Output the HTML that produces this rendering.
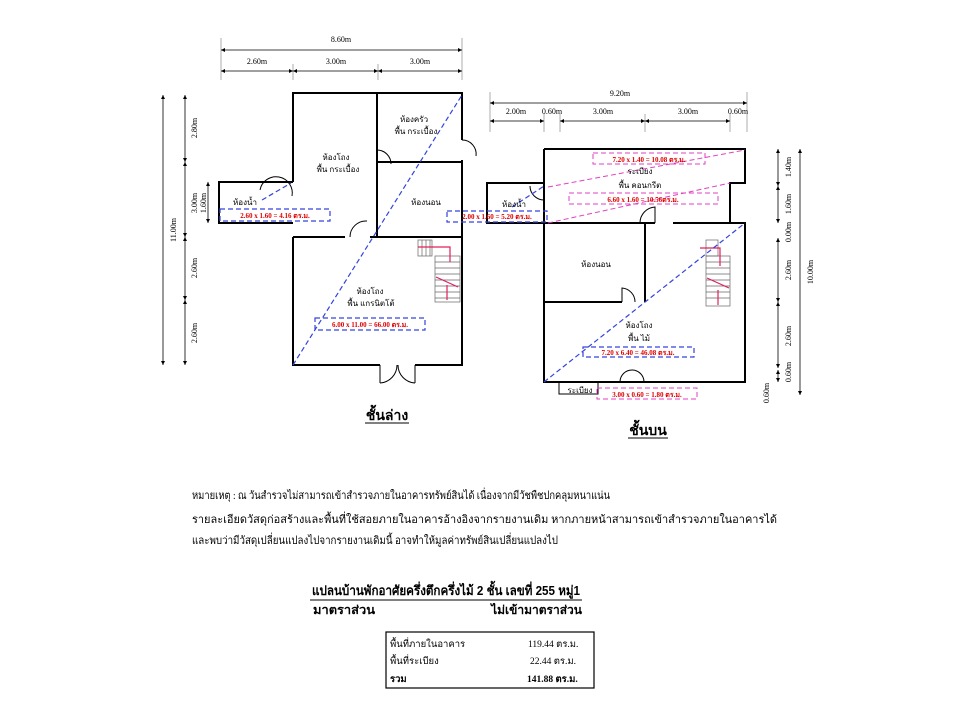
<!DOCTYPE html>
<html><head><meta charset="utf-8"><style>
html,body{margin:0;padding:0;background:#fff;width:960px;height:720px;overflow:hidden}
svg{display:block}
text{font-family:"Liberation Serif","Noto Serif CJK SC","Noto Sans CJK SC",serif;}
.th{font-family:"Liberation Sans","Noto Sans CJK SC",sans-serif;}
</style></head><body>
<svg width="960" height="720" viewBox="0 0 960 720" xmlns="http://www.w3.org/2000/svg">
<defs><marker id="a" viewBox="0 0 6 6" refX="6" refY="3" markerWidth="5" markerHeight="5" orient="auto-start-reverse"><path d="M0,0L6,3L0,6z" fill="#000"/></marker></defs>
<g stroke="#999" stroke-width="0.8" fill="none">
<line x1="221" y1="38" x2="221" y2="80"/><line x1="462" y1="38" x2="462" y2="80"/>
<line x1="293" y1="64" x2="293" y2="80"/><line x1="378" y1="64" x2="378" y2="80"/>
<line x1="490" y1="92" x2="490" y2="132"/><line x1="747" y1="92" x2="747" y2="132"/>
<line x1="544" y1="114" x2="544" y2="132"/><line x1="560" y1="114" x2="560" y2="132"/><line x1="645" y1="114" x2="645" y2="132"/><line x1="730" y1="114" x2="730" y2="132"/>
</g>
<g stroke="#000" stroke-width="0.8" marker-start="url(#a)" marker-end="url(#a)">
<line x1="221" y1="50" x2="462" y2="50"/>
<line x1="221" y1="71" x2="293" y2="71"/><line x1="293" y1="71" x2="378" y2="71"/><line x1="378" y1="71" x2="462" y2="71"/>
<line x1="490" y1="103" x2="747" y2="103"/>
<line x1="490" y1="121" x2="544" y2="121"/><line x1="560" y1="121" x2="645" y2="121"/><line x1="645" y1="121" x2="730" y2="121"/>
<line x1="163" y1="95" x2="163" y2="365"/>
<line x1="185" y1="95" x2="185" y2="162"/><line x1="185" y1="162" x2="185" y2="237"/><line x1="185" y1="237" x2="185" y2="300"/><line x1="185" y1="300" x2="185" y2="365"/>
<line x1="208" y1="182" x2="208" y2="223"/>
<line x1="800" y1="149" x2="800" y2="395"/>
<line x1="778" y1="149" x2="778" y2="186"/><line x1="778" y1="186" x2="778" y2="223"/><line x1="778" y1="238" x2="778" y2="302"/><line x1="778" y1="302" x2="778" y2="368"/><line x1="778" y1="370" x2="778" y2="382"/>
</g>
<g font-size="8" text-anchor="middle">
<text x="341" y="42">8.60m</text>
<text x="257" y="64">2.60m</text><text x="336" y="64">3.00m</text><text x="420" y="64">3.00m</text>
<text x="620" y="96">9.20m</text>
<text x="516" y="114">2.00m</text><text x="552" y="114">0.60m</text><text x="603" y="114">3.00m</text><text x="688" y="114">3.00m</text><text x="738" y="114">0.60m</text>
<text transform="translate(176,230) rotate(-90)">11.00m</text>
<text transform="translate(197,128) rotate(-90)">2.80m</text>
<text transform="translate(197,203) rotate(-90)">3.00m</text>
<text transform="translate(206,203) rotate(-90)">1.60m</text>
<text transform="translate(197,268) rotate(-90)">2.60m</text>
<text transform="translate(197,333) rotate(-90)">2.60m</text>
<text transform="translate(813,272) rotate(-90)">10.00m</text>
<text transform="translate(791,167) rotate(-90)">1.40m</text>
<text transform="translate(791,204) rotate(-90)">1.60m</text>
<text transform="translate(791,232) rotate(-90)">0.00m</text>
<text transform="translate(791,270) rotate(-90)">2.60m</text>
<text transform="translate(791,336) rotate(-90)">2.60m</text>
<text transform="translate(791,372) rotate(-90)">0.60m</text>
<text transform="translate(769,393) rotate(-90)">0.60m</text>
</g>
<g stroke="#000" stroke-width="2" fill="none">
<polyline points="293,182 293,93 462,93 462,140"/>
<polyline points="462,160 462,365 415,365"/><polyline points="380,365 293,365 293,237"/>
<polyline points="293,182 219,182 219,223 293,223"/>
<line x1="377" y1="93" x2="377" y2="237"/><line x1="377" y1="162" x2="462" y2="162"/>
<polyline points="293,237 345,237"/><line x1="370" y1="237" x2="462" y2="237"/>
<polyline points="544,149 745,149 745,183 730,183 730,223 745,223 745,382 544,382 544,149"/>
<polyline points="544,183 487,183 487,223 544,223"/>
<line x1="544" y1="223" x2="655" y2="223"/><line x1="673" y1="223" x2="745" y2="223"/>
<line x1="645" y1="223" x2="645" y2="302"/><polyline points="544,302 622,302"/>
</g>
<g stroke="#000" stroke-width="1" fill="none">
<rect x="559" y="382" width="39" height="12"/>
<path d="M377,150 a14,14 0 0 1 14,14"/><line x1="377" y1="150" x2="377" y2="162"/>
<path d="M462,140 a14,14 0 0 1 14,16"/>
<path d="M350,237 a16,16 0 0 1 17,-16"/>
<path d="M260,190 a16,16 0 0 1 32,6"/>
<path d="M380,365 l0,18 M380,383 a18,18 0 0 0 17,-18 M415,365 l0,18 M415,383 a18,18 0 0 1 -17,-18"/>
<path d="M622,302 l0,-14 a14,14 0 0 1 13,14"/>
<path d="M620,382 a12,12 0 0 1 24,0"/>
<path d="M655,223 l0,-16 a16,16 0 0 0 -15,16"/>
<path d="M530,186 a14,14 0 0 0 14,14"/>
</g>
<g stroke="#666" stroke-width="0.7">
<rect x="418" y="240" width="14" height="16" fill="none"/>
<rect x="435" y="256" width="25" height="46" fill="none"/>
<line x1="422" y1="240" x2="422" y2="256"/><line x1="426" y1="240" x2="426" y2="256"/><line x1="430" y1="240" x2="430" y2="256"/>
<line x1="435" y1="262" x2="460" y2="262"/><line x1="435" y1="268" x2="460" y2="268"/><line x1="435" y1="274" x2="460" y2="274"/><line x1="435" y1="280" x2="460" y2="280"/><line x1="435" y1="286" x2="460" y2="286"/><line x1="435" y1="292" x2="460" y2="292"/><line x1="435" y1="298" x2="460" y2="298"/>
<rect x="706" y="240" width="12" height="16" fill="none"/>
<rect x="706" y="256" width="24" height="50" fill="none"/>
<line x1="706" y1="262" x2="730" y2="262"/><line x1="706" y1="268" x2="730" y2="268"/><line x1="706" y1="274" x2="730" y2="274"/><line x1="706" y1="280" x2="730" y2="280"/><line x1="706" y1="286" x2="730" y2="286"/><line x1="706" y1="292" x2="730" y2="292"/><line x1="706" y1="298" x2="730" y2="298"/>
</g>
<g stroke="#e0205a" stroke-width="1.2" fill="none">
<polyline points="418,247 450,247 450,262"/><line x1="436" y1="277" x2="458" y2="287"/><line x1="447" y1="300" x2="447" y2="285"/>
<polyline points="700,248 720,248 720,266"/><line x1="707" y1="278" x2="729" y2="288"/><line x1="718" y1="305" x2="718" y2="290"/>
</g>
<g stroke="#3344dd" stroke-width="1.2" stroke-dasharray="5,3" fill="none">
<line x1="293" y1="365" x2="462" y2="95"/>
<line x1="262" y1="200" x2="291" y2="183"/>
<line x1="544" y1="382" x2="745" y2="223"/>
<line x1="512" y1="207" x2="544" y2="186"/>
<rect x="220" y="209" width="110" height="12"/>
<rect x="315" y="318" width="110" height="12"/>
<rect x="447" y="211" width="100" height="11"/>
<rect x="583" y="347" width="111" height="10"/>
</g>
<g stroke="#e040c0" stroke-width="1" stroke-dasharray="5,3" fill="none">
<line x1="548" y1="187" x2="745" y2="150"/>
<line x1="548" y1="223" x2="730" y2="183"/>
<rect x="593" y="153" width="112" height="11"/>
<rect x="569" y="193" width="149" height="11"/>
<rect x="597" y="388" width="100" height="11"/>
</g>
<g font-size="7" font-weight="bold" fill="#e00000" text-anchor="middle" class="th">
<text x="275" y="218">2.60 x 1.60 = 4.16 ตร.ม.</text>
<text x="370" y="327">6.00 x 11.00 = 66.00 ตร.ม.</text>
<text x="497" y="219">2.00 x 1.60 = 5.20 ตร.ม.</text>
<text x="638" y="355">7.20 x 6.40 = 46.08 ตร.ม.</text>
<text x="649" y="162">7.20 x 1.40 = 10.08 ตร.ม.</text>
<text x="643" y="202">6.60 x 1.60 = 10.56ตร.ม.</text>
<text x="647" y="397">3.00 x 0.60 = 1.80 ตร.ม.</text>
</g>
<g font-size="8" text-anchor="middle" class="th">
<text x="336" y="160">ห้องโถง</text><text x="338" y="172">พื้น กระเบื้อง</text>
<text x="414" y="122">ห้องครัว</text><text x="416" y="134">พื้น กระเบื้อง</text>
<text x="245" y="205">ห้องน้ำ</text>
<text x="426" y="205">ห้องนอน</text>
<text x="370" y="294">ห้องโถง</text><text x="371" y="306">พื้น แกรนิตโต้</text>
<text x="640" y="174">ระเบียง</text><text x="640" y="188">พื้น คอนกรีต</text>
<text x="514" y="207">ห้องน้ำ</text>
<text x="596" y="267">ห้องนอน</text>
<text x="639" y="328">ห้องโถง</text><text x="639" y="341">พื้น ไม้</text>
<text x="580" y="393">ระเบียง</text>
</g>
<g font-size="14" font-weight="bold" text-anchor="middle" class="th">
<text x="387" y="420">ชั้นล่าง</text><text x="648" y="435">ชั้นบน</text>
</g>
<line x1="365" y1="423" x2="409" y2="423" stroke="#000"/>
<line x1="628" y1="438" x2="668" y2="438" stroke="#000"/>
<g font-size="11" class="th">
<text x="192" y="499" textLength="418" lengthAdjust="spacingAndGlyphs">หมายเหตุ : ณ วันสำรวจไม่สามารถเข้าสำรวจภายในอาคารทรัพย์สินได้ เนื่องจากมีวัชพืชปกคลุมหนาแน่น</text>
<text x="192" y="523" textLength="585" lengthAdjust="spacingAndGlyphs">รายละเอียดวัสดุก่อสร้างและพื้นที่ใช้สอยภายในอาคารอ้างอิงจากรายงานเดิม หากภายหน้าสามารถเข้าสำรวจภายในอาคารได้</text>
<text x="192" y="544" textLength="366" lengthAdjust="spacingAndGlyphs">และพบว่ามีวัสดุเปลี่ยนแปลงไปจากรายงานเดิมนี้ อาจทำให้มูลค่าทรัพย์สินเปลี่ยนแปลงไป</text>
</g>
<text x="312" y="595" font-size="13" font-weight="bold" class="th" textLength="268" lengthAdjust="spacingAndGlyphs">แปลนบ้านพักอาศัยครึ่งตึกครึ่งไม้ 2 ชั้น เลขที่ 255 หมู่1</text>
<line x1="310" y1="600" x2="582" y2="600" stroke="#000" stroke-width="1"/>
<text x="313" y="614" font-size="12" font-weight="bold" class="th" textLength="62" lengthAdjust="spacingAndGlyphs">มาตราส่วน</text>
<text x="582" y="614" font-size="12" font-weight="bold" text-anchor="end" class="th">ไม่เข้ามาตราส่วน</text>
<rect x="386" y="632" width="208" height="56" fill="none" stroke="#000" stroke-width="1.2"/>
<g font-size="9.5" class="th">
<text x="390" y="647">พื้นที่ภายในอาคาร</text><text x="390" y="664">พื้นที่ระเบียง</text><text x="390" y="682" font-weight="bold">รวม</text>
<text x="528" y="647">119.44 ตร.ม.</text><text x="530" y="664">22.44 ตร.ม.</text><text x="527" y="682" font-weight="bold">141.88 ตร.ม.</text>
</g>
</svg>
</body></html>
